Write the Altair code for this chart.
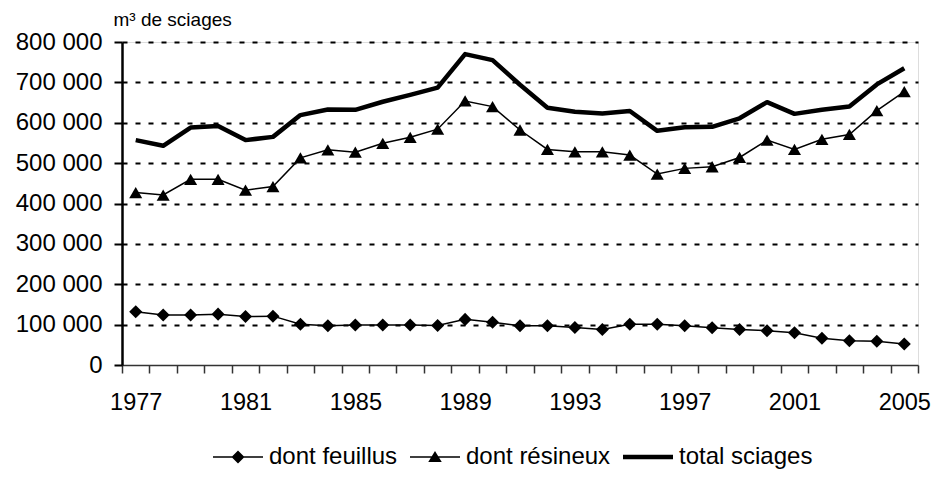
import altair as alt
import pandas as pd

years = list(range(1977, 2006))
feuillus = [132000, 124000, 124000, 126000, 120000, 121000, 101000, 97000, 99000, 99000,
            99000, 98000, 113000, 106000, 97000, 97000, 93000, 88000, 101000, 101000,
            97000, 92000, 88000, 85000, 80000, 66000, 60000, 59000, 52000]
resineux = [427000, 421000, 460000, 460000, 433000, 442000, 513000, 533000, 527000, 549000,
            564000, 584000, 654000, 640000, 582000, 534000, 528000, 528000, 520000, 473000,
            487000, 491000, 514000, 557000, 534000, 559000, 571000, 630000, 677000]
total = [557000, 543000, 588000, 592000, 557000, 565000, 619000, 633000, 632000, 652000,
         669000, 687000, 770000, 755000, 694000, 637000, 627000, 623000, 629000, 580000,
         589000, 590000, 611000, 651000, 622000, 632000, 640000, 695000, 735000]
series_names = ["dont feuillus", "dont résineux", "total sciages"]

rows = []
for name, vals in zip(series_names, [feuillus, resineux, total]):
    for y, v in zip(years, vals):
        rows.append({"year": y, "value": v, "series": name})
df = pd.DataFrame(rows)

FONT = "Liberation Sans"
W, H = 796, 323
half_band = W / len(years) / 2

x_enc = alt.X(
    "year:Q",
    scale=alt.Scale(domain=[years[0] - 0.5, years[-1] + 0.5], nice=False, zero=False),
    axis=alt.Axis(
        values=[years[0] - 0.5 + i for i in range(len(years) + 1)],
        labelExpr="((datum.value + 0.5 - 1977) % 4 == 0 && datum.value < 2005) ? format(datum.value + 0.5, 'd') : ''",
        labelOffset=half_band,
        labelOverlap=False,
        labelFlush=False,
        labelFont=FONT,
        labelFontSize=23.5,
        labelColor="black",
        labelPadding=17,
        tickColor="#333333",
        tickWidth=1.5,
        tickSize=8,
        domainColor="#333333",
        domainWidth=1.5,
        grid=False,
        title=None,
    ),
)

y_enc = alt.Y(
    "value:Q",
    scale=alt.Scale(domain=[0, 800000], nice=False),
    axis=alt.Axis(
        values=[i * 100000 for i in range(9)],
        labelExpr="datum.value == 0 ? '0' : format(datum.value / 1000, 'd') + ' 000'",
        labelFont=FONT,
        labelFontSize=24,
        labelColor="black",
        labelPadding=12,
        tickColor="black",
        tickWidth=2,
        tickSize=8,
        domainColor="black",
        domainWidth=2.5,
        grid=True,
        gridColor="black",
        gridWidth=2,
        gridDash=[5, 8],
        gridOpacity={"condition": {"test": "datum.value === 0", "value": 0}, "value": 1},
        title="m³ de sciages",
        titleAngle=0,
        titleAlign="left",
        titleBaseline="alphabetic",
        titleX=-9,
        titleY=-17,
        titleFont=FONT,
        titleFontSize=19,
        titleFontWeight="normal",
        titleColor="black",
    ),
)

base = alt.Chart(df)

thin_lines = base.transform_filter(
    "datum.series != 'total sciages'"
).mark_line(color="black", strokeWidth=1.5).encode(
    x=x_enc,
    y=y_enc,
    detail="series:N",
)

total_line = base.transform_filter(
    "datum.series == 'total sciages'"
).mark_line(color="black", strokeWidth=4.5, strokeJoin="round").encode(
    x=x_enc,
    y=y_enc,
)

points = base.transform_filter(
    "datum.series != 'total sciages'"
).mark_point(filled=True, color="black", opacity=1, size=170).encode(
    x=x_enc,
    y=y_enc,
    shape=alt.Shape(
        "series:N",
        scale=alt.Scale(domain=series_names[:2], range=["diamond", "triangle-up"]),
        legend=None,
    ),
)

legend_paths = [
    "M-1,-0.03H1V0.03H-1ZM0,-0.26L0.26,0L0,0.26L-0.26,0Z",
    "M-1,-0.03H1V0.03H-1ZM0,-0.24L0.27,0.2L-0.27,0.2Z",
    "M-1,-0.09H1V0.09H-1Z",
]

legend_layer = base.transform_filter("datum.value < 0").mark_point(
    filled=True, color="black", opacity=1
).encode(
    x=x_enc,
    y=y_enc,
    shape=alt.Shape(
        "series:N",
        scale=alt.Scale(domain=series_names, range=legend_paths),
        legend=alt.Legend(
            title=None,
            orient="none",
            direction="horizontal",
            legendX=91,
            legendY=390,
            symbolSize=2500,
            symbolFillColor="black",
            symbolStrokeWidth=0,
            symbolOpacity=1,
            labelFont=FONT,
            labelFontSize=24,
            labelColor="black",
            labelOffset=6,
            columnPadding=12,
            padding=0,
        ),
    ),
)

chart = (
    alt.layer(thin_lines, total_line, points, legend_layer)
    .resolve_scale(shape="independent")
    .properties(
        width=W,
        height=H,
        autosize=alt.AutoSizeParams(type="none"),
        padding={"left": 114, "top": 34, "right": 17, "bottom": 104},
    )
    .configure_view(stroke=None)
    .configure(background="white")
)

chart.save("out.html", embed_options={"renderer": "svg", "actions": False})
